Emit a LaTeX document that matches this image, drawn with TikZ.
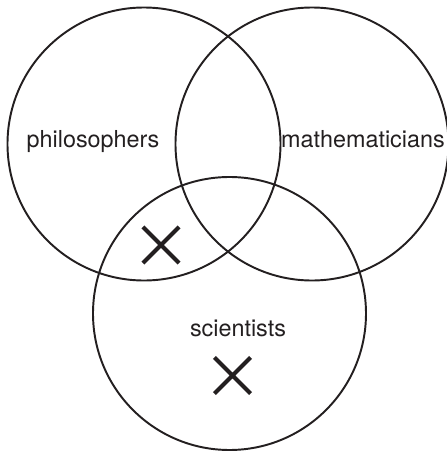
\documentclass[tikz,border=0pt]{standalone}
\usepackage{fontspec}
\setmainfont{TeX Gyre Heros}
\usepackage{tikz}
\usetikzlibrary{shapes.misc}

\definecolor{ink}{HTML}{231F20}

\begin{document}
\begin{tikzpicture}[
    set/.style={circle, draw=ink, line width=1.1pt, minimum size=5.46cm, inner sep=0pt},
    set label/.style={anchor=base, inner sep=0pt, text=ink, font=\fontsize{13.3}{16}\selectfont},
    mark x/.style={cross out, draw=ink, line width=2.4pt, minimum size=0.64cm, inner sep=0pt},
  ]
  \useasboundingbox (0, 0) rectangle (8.94, 9.02);

  % Sets
  \node[set] (phil) at (2.88, 6.14) {};
  \node[set] (math) at (6.24, 6.14) {};
  \node[set] (sci)  at (4.59, 2.75) {};

  % Labels
  \node[set label] (philtext) at (1.86, 6.08) {philosophers};
  \node[set label] (mathtext) at (7.26, 6.08) {mathematicians};
  \node[set label] (scitext)  at (4.76, 2.30) {scientists};

  % Crosses
  \node[mark x] (x1) at (3.22, 4.12) {};
  \node[mark x] (x2) at (4.65, 1.51) {};

\end{tikzpicture}
\end{document}
